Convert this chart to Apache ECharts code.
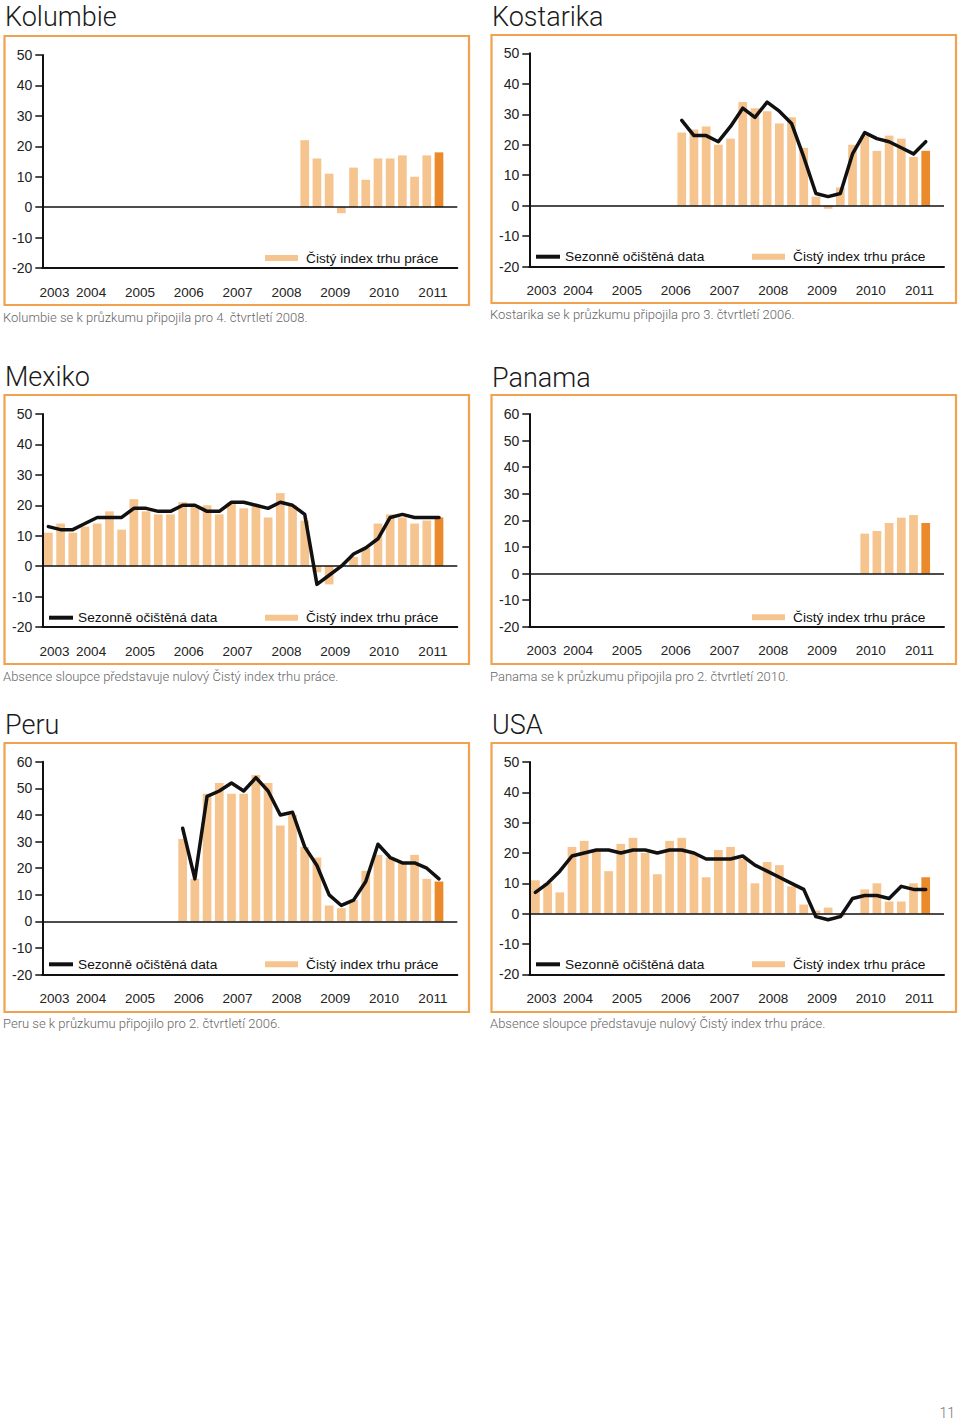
<!DOCTYPE html>
<html><head><meta charset="utf-8">
<script src="https://cdn.jsdelivr.net/npm/echarts@6/dist/echarts.min.js"></script>
<style>html,body{margin:0;padding:0;background:#fff}#c{width:960px;height:1421px}</style>
</head><body><div id="c"></div>
<script>
// ---------- data ----------
const years = ['2003','2004','2005','2006','2007','2008','2009','2010','2011'];
const firstYearQuarters = ['Q3','Q4'];
const fullYearQuarters = ['Q1','Q2','Q3','Q4'];
const barName = 'Čistý index trhu práce';
const lineName = 'Sezonně očištěná data';

const kolumbieStart = '2008 Q4';
const kolumbieBars = [22,16,11,-2,13,9,16,16,17,10,17,18];

const kostarikaStart = '2006 Q3';
const kostarikaBars = [24,25,26,20,22,34,32,31,27,29,19,3,-1,6,20,23,18,23,22,16,18];
const kostarikaLine = [28,23,23,21,26,32,29,34,31,27,16,4,3,4,17,24,22,21,19,17,21];

const mexikoStart = '2003 Q3';
const mexikoBars = [11,14,11,13,14,18,12,22,18,17,17,21,20,20,17,21,19,20,16,24,20,15,-2,-6,0,3,6,14,17,16,14,15,16];
const mexikoLine = [13,12,12,14,16,16,16,19,19,18,18,20,20,18,18,21,21,20,19,21,20,17,-6,-3,0,4,6,9,16,17,16,16,16];

const panamaStart = '2010 Q2';
const panamaBars = [15,16,19,21,22,19];

const peruStart = '2006 Q2';
const peruBars = [31,16,48,52,48,48,55,52,36,40,28,24,6,5,8,19,25,24,22,25,16,15];
const peruLine = [35,16,47,49,52,49,54,49,40,41,28,21,10,6,8,15,29,24,22,22,20,16];

const usaStart = '2003 Q3';
const usaBars = [11,10,7,22,24,21,14,23,25,20,13,24,25,20,12,21,22,18,10,17,16,9,3,1,2,-1,0,8,10,4,4,10,12];
const usaLine = [7,10,14,19,20,21,21,20,21,21,20,21,21,20,18,18,18,19,16,14,12,10,8,-1,-2,-1,5,6,6,5,9,8,8];

const titles = ['Kolumbie','Kostarika','Mexiko','Panama','Peru','USA'];
const notes = [
  'Kolumbie se k průzkumu připojila pro 4. čtvrtletí 2008.',
  'Kostarika se k průzkumu připojila pro 3. čtvrtletí 2006.',
  'Absence sloupce představuje nulový Čistý index trhu práce.',
  'Panama se k průzkumu připojila pro 2. čtvrtletí 2010.',
  'Peru se k průzkumu připojilo pro 2. čtvrtletí 2006.',
  'Absence sloupce představuje nulový Čistý index trhu práce.'
];
const yMaxes = [50,50,50,60,60,50];
const pageNumber = '11';

// ---------- derived category structure ----------
const categories = [];
const yearStartIdx = new Set();
const yearLabelAt = {};
years.forEach((y, k) => {
  const qs = k === 0 ? firstYearQuarters : fullYearQuarters;
  yearStartIdx.add(categories.length);
  yearLabelAt[categories.length + qs.length / 2] = y;
  qs.forEach(q => categories.push(y + ' ' + q));
});

function pad(start, vals, highlightLast) {
  const out = categories.map(() => null);
  const s = categories.indexOf(start);
  vals.forEach((v, i) => { out[s + i] = v; });
  if (highlightLast) {
    const li = s + vals.length - 1;
    out[li] = { value: out[li], itemStyle: { color: '#EA8A2A' } };
  }
  return out;
}

const panelData = [
  { start: kolumbieStart, bars: kolumbieBars, line: null },
  { start: kostarikaStart, bars: kostarikaBars, line: kostarikaLine },
  { start: mexikoStart, bars: mexikoBars, line: mexikoLine },
  { start: panamaStart, bars: panamaBars, line: null },
  { start: peruStart, bars: peruBars, line: peruLine },
  { start: usaStart, bars: usaBars, line: usaLine }
];

// ---------- layout ----------
const layout = [
  { box:[4.5,36,464.5,269], grid:[42.3,55,415,213],   title:[5,17],   note:[3,317], legY:258,   lineLeg:49,  barLeg:265 },
  { box:[491.5,35,464.5,268], grid:[529.3,53.3,414.7,213.4], title:[492,17], note:[490,314], legY:256.7, lineLeg:536, barLeg:752 },
  { box:[4.5,395,464.5,269], grid:[42.3,414,415,213],  title:[5,377],  note:[3,676], legY:617.7, lineLeg:49,  barLeg:265 },
  { box:[491.5,395,464.5,269], grid:[529.3,414,414.7,212.7], title:[492,378], note:[490,676], legY:617.3, lineLeg:536, barLeg:752 },
  { box:[4.5,743,464.5,269], grid:[42.3,761.7,415,213], title:[5,725], note:[3,1023], legY:964.3, lineLeg:49,  barLeg:265 },
  { box:[491.5,743,464.5,269], grid:[529.3,762,414.7,212.3], title:[492,725], note:[490,1023], legY:964.3, lineLeg:536, barLeg:752 }
];

const FONT = "'Liberation Sans', Arial, sans-serif";
const LIGHT = "Roboto, 'Liberation Sans', sans-serif";
const BAR_COLOR = '#F6C48F';
const INK = '#111';

const grid = [], xAxis = [], yAxis = [], series = [], legend = [], graphic = [];

layout.forEach((L, i) => {
  const d = panelData[i];
  grid.push({ left: L.grid[0], top: L.grid[1], width: L.grid[2], height: L.grid[3] });
  // A: data axis with quarter ticks
  xAxis.push({ type:'category', data: categories, gridIndex:i, position:'bottom',
    axisLine:{ onZero:false, lineStyle:{ color:INK, width:2 } },
    axisTick:{ interval:0, length:5, lineStyle:{ color:INK, width:2 } },
    axisLabel:{ show:false }, splitLine:{ show:false } });
  // B: year ticks
  xAxis.push({ type:'category', data: categories, gridIndex:i, position:'bottom',
    axisLine:{ show:false, onZero:false },
    axisTick:{ interval:(idx) => yearStartIdx.has(idx), length:13, lineStyle:{ color:INK, width:2 } },
    axisLabel:{ show:false }, splitLine:{ show:false } });
  // C: year labels centred on year spans
  xAxis.push({ type:'value', gridIndex:i, position:'bottom', min:0, max:categories.length, interval:1,
    axisLine:{ show:false, onZero:false }, axisTick:{ show:false }, splitLine:{ show:false },
    axisLabel:{ margin:17, fontSize:13.5, fontFamily:FONT, color:'#222',
      formatter:(v) => yearLabelAt[v] || '' } });
  yAxis.push({ type:'value', gridIndex:i, min:-20, max:yMaxes[i], interval:10,
    axisLine:{ show:true, lineStyle:{ color:INK, width:2 } },
    axisTick:{ show:true, length:7, lineStyle:{ color:INK, width:1.5 } },
    axisLabel:{ margin:10, fontSize:14, fontFamily:FONT, color:'#222' },
    splitLine:{ show:false } });

  series.push({ type:'bar', name: barName, xAxisIndex: 3*i, yAxisIndex: i,
    data: pad(d.start, d.bars, true), barWidth: 8.7, itemStyle:{ color: BAR_COLOR },
    markLine:{ silent:true, symbol:'none', animation:false, label:{ show:false },
      lineStyle:{ color:INK, width:1.5, type:'solid' }, data:[{ yAxis:0 }] } });
  if (d.line) {
    series.push({ type:'line', name: lineName, xAxisIndex: 3*i, yAxisIndex: i,
      data: pad(d.start, d.line, false), showSymbol:false, symbol:'none', z:5,
      color: INK, itemStyle:{ color: INK },
      lineStyle:{ color: INK, width:3.5, join:'round', cap:'round' } });
    legend.push({ data:[lineName], left:L.lineLeg, top:L.legY - 7, padding:0, selectedMode:false,
      icon:'rect', itemWidth:24, itemHeight:4, textStyle:{ fontSize:13.7, fontFamily:FONT, color:'#111' } });
  }
  legend.push({ data:[barName], left:L.barLeg, top:L.legY - 7, padding:0, selectedMode:false,
    icon:'rect', itemWidth:33, itemHeight:6, textStyle:{ fontSize:13.7, fontFamily:FONT, color:'#111', padding:[0,0,0,3] } });

  graphic.push({ type:'rect', silent:true, z:-1,
    shape:{ x:L.box[0], y:L.box[1], width:L.box[2], height:L.box[3] },
    style:{ fill:'none', stroke:'#F0A24E', lineWidth:2.2 } });
  graphic.push({ type:'text', x:L.title[0], y:L.title[1], silent:true,
    style:{ text: titles[i], font:"300 27px " + LIGHT, fill:'#1a1a1a', textVerticalAlign:'middle', verticalAlign:'middle' } });
  graphic.push({ type:'text', x:L.note[0], y:L.note[1], silent:true,
    style:{ text: notes[i], font:"300 13px " + LIGHT, fill:'#666', textVerticalAlign:'middle', verticalAlign:'middle' } });
});
graphic.push({ type:'text', x:955, y:1413, silent:true,
  style:{ text: pageNumber, font:"300 14px " + LIGHT, fill:'#777', textAlign:'right', align:'right', textVerticalAlign:'middle', verticalAlign:'middle' } });

const chart = echarts.init(document.getElementById('c'), null, { renderer:'svg' });
chart.setOption({ animation:false, backgroundColor:'#fff', grid, xAxis, yAxis, series, legend, graphic });
</script></body></html>
